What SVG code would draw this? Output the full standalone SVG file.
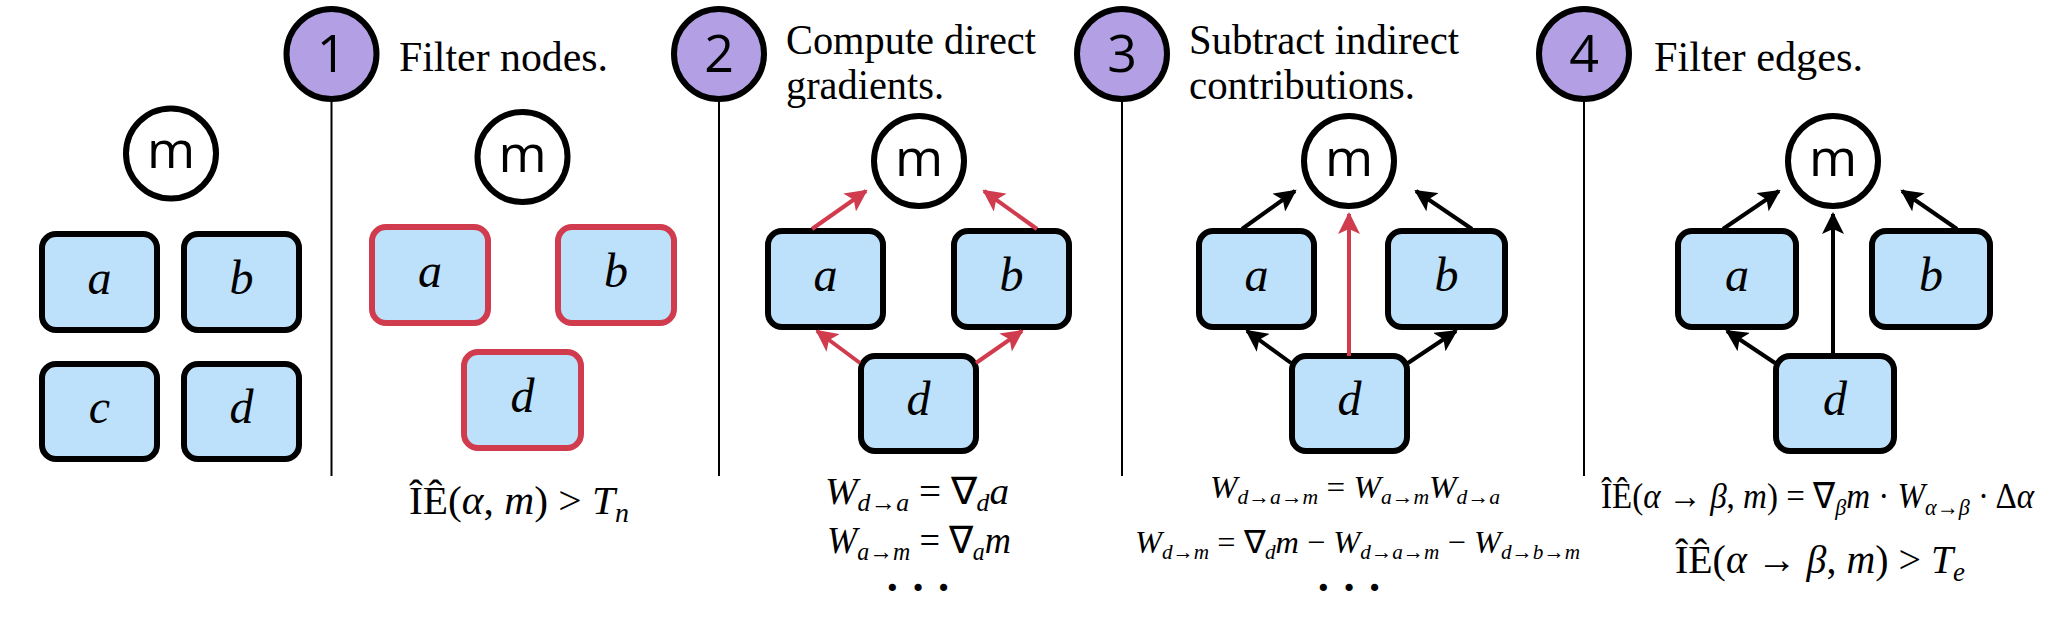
<svg xmlns="http://www.w3.org/2000/svg" width="2054" height="622" viewBox="0 0 2054 622">
<style>
.bx{fill:#bde0fb;stroke:#000;stroke-width:6}
.bxr{fill:#bde0fb;stroke:#d13b4e;stroke-width:6}
.cm{fill:#fff;stroke:#000;stroke-width:6}
.bd{fill:#b3a0e4;stroke:#000;stroke-width:6}
.dv{stroke:#000;stroke-width:2}
.ms{font-family:"Open Sans","DejaVu Sans",sans-serif;font-size:52px;text-anchor:middle}
.dg{font-family:"Open Sans","DejaVu Sans",sans-serif;font-size:52px;text-anchor:middle}
.lt{font-family:"Liberation Serif",serif;font-style:italic;font-size:48px;text-anchor:middle}
.hd{font-family:"Liberation Serif",serif;font-size:42px}
.mt{font-family:"Liberation Serif",serif;font-style:italic}
.up{font-style:normal}
.dots{font-family:"Liberation Serif",serif;font-size:44px;font-weight:bold;text-anchor:middle}
.ar{stroke:#000;stroke-width:4;fill:none;marker-end:url(#ak)}
.arr{stroke:#d13b4e;stroke-width:4;fill:none;marker-end:url(#ar)}
</style>
<defs>
<marker id="ak" markerUnits="userSpaceOnUse" markerWidth="24" markerHeight="22" refX="20" refY="11" orient="auto"><path d="M0,0 L22,11 L0,22 L5,11 Z" fill="#000"/></marker>
<marker id="ar" markerUnits="userSpaceOnUse" markerWidth="24" markerHeight="22" refX="20" refY="11" orient="auto"><path d="M0,0 L22,11 L0,22 L5,11 Z" fill="#d13b4e"/></marker>
</defs>
<rect width="2054" height="622" fill="#fff"/>

<g id="steps">
<line class="dv" x1="331.5" y1="100" x2="331.5" y2="476"/>
<line class="dv" x1="719" y1="100" x2="719" y2="476"/>
<line class="dv" x1="1122" y1="100" x2="1122" y2="476"/>
<line class="dv" x1="1584" y1="100" x2="1584" y2="476"/>
<g id="badge1"><circle class="bd" cx="331.5" cy="54" r="45"/><text class="dg" x="331.5" y="72">1</text></g>
<g id="badge2"><circle class="bd" cx="719" cy="54" r="45"/><text class="dg" x="719" y="72">2</text></g>
<g id="badge3"><circle class="bd" cx="1122" cy="54" r="45"/><text class="dg" x="1122" y="72">3</text></g>
<g id="badge4"><circle class="bd" cx="1584" cy="54" r="45"/><text class="dg" x="1584" y="72">4</text></g>
<text class="hd" x="399" y="71" textLength="209" lengthAdjust="spacingAndGlyphs">Filter nodes.</text>
<text class="hd" x="786" y="54" textLength="250" lengthAdjust="spacingAndGlyphs">Compute direct</text>
<text class="hd" x="786" y="99" textLength="158" lengthAdjust="spacingAndGlyphs">gradients.</text>
<text class="hd" x="1189" y="54" textLength="270" lengthAdjust="spacingAndGlyphs">Subtract indirect</text>
<text class="hd" x="1189" y="99" textLength="226" lengthAdjust="spacingAndGlyphs">contributions.</text>
<text class="hd" x="1654" y="71" textLength="209" lengthAdjust="spacingAndGlyphs">Filter edges.</text>
</g>

<g id="p0-m"><circle class="cm" cx="171" cy="153.5" r="45"/><text class="ms" x="171" y="168">m</text></g>
<g id="p0-a"><rect class="bx" x="42" y="234" width="115" height="96" rx="14"/><text class="lt" x="99.5" y="294">a</text></g>
<g id="p0-b"><rect class="bx" x="184" y="234" width="115" height="96" rx="14"/><text class="lt" x="241.5" y="294">b</text></g>
<g id="p0-c"><rect class="bx" x="42" y="364" width="115" height="95" rx="14"/><text class="lt" x="99.5" y="423">c</text></g>
<g id="p0-d"><rect class="bx" x="184" y="364" width="115" height="95" rx="14"/><text class="lt" x="241.5" y="423">d</text></g>

<g id="p1-m"><circle class="cm" cx="522.5" cy="157" r="45"/><text class="ms" x="522.5" y="172">m</text></g>
<g id="p1-a"><rect class="bxr" x="372" y="227" width="116" height="96" rx="14"/><text class="lt" x="430" y="287">a</text></g>
<g id="p1-b"><rect class="bxr" x="558" y="227" width="116" height="96" rx="14"/><text class="lt" x="616" y="287">b</text></g>
<g id="p1-d"><rect class="bxr" x="464" y="352" width="117" height="96" rx="14"/><text class="lt" x="522.5" y="412">d</text></g>
<text class="mt" x="409" y="514" font-size="40" textLength="220" lengthAdjust="spacingAndGlyphs"><tspan class="up">ÎÊ(</tspan>α<tspan class="up">, </tspan>m<tspan class="up">) &gt; </tspan>T<tspan font-size="27" dy="8">n</tspan></text>

<g id="p2-m"><circle class="cm" cx="919" cy="161" r="45"/><text class="ms" x="919" y="176">m</text></g>
<g id="p2-a"><rect class="bx" x="768" y="231" width="115" height="96" rx="14"/><text class="lt" x="825.5" y="291">a</text></g>
<g id="p2-b"><rect class="bx" x="954" y="231" width="115" height="96" rx="14"/><text class="lt" x="1011.5" y="291">b</text></g>
<g id="p2-d"><rect class="bx" x="861" y="356" width="115" height="95" rx="14"/><text class="lt" x="918.5" y="415">d</text></g>
<g id="p2-edges">
<line class="arr" x1="812" y1="229" x2="866" y2="191"/>
<line class="arr" x1="1037" y1="229" x2="984" y2="191"/>
<line class="arr" x1="860" y1="363" x2="817" y2="331"/>
<line class="arr" x1="976" y1="363" x2="1022" y2="331"/>
</g>
<text class="mt" x="825" y="504" font-size="38" textLength="184" lengthAdjust="spacingAndGlyphs">W<tspan font-size="25" dy="7">d→a</tspan><tspan class="up" dy="-7"> = ∇</tspan><tspan font-size="25" dy="7">d</tspan><tspan dy="-7">a</tspan></text>
<text class="mt" x="827" y="553" font-size="38" textLength="184" lengthAdjust="spacingAndGlyphs">W<tspan font-size="25" dy="7">a→m</tspan><tspan class="up" dy="-7"> = ∇</tspan><tspan font-size="25" dy="7">a</tspan><tspan dy="-7">m</tspan></text>
<text class="dots" x="918" y="602">· · ·</text>

<g id="p3-m"><circle class="cm" cx="1349" cy="161" r="45"/><text class="ms" x="1349" y="176">m</text></g>
<g id="p3-a"><rect class="bx" x="1199" y="231" width="115" height="96" rx="14"/><text class="lt" x="1256.5" y="291">a</text></g>
<g id="p3-b"><rect class="bx" x="1388" y="231" width="117" height="96" rx="14"/><text class="lt" x="1446.5" y="291">b</text></g>
<g id="p3-d"><rect class="bx" x="1292" y="356" width="115" height="95" rx="14"/><text class="lt" x="1349.5" y="415">d</text></g>
<g id="p3-edges">
<line class="ar" x1="1242" y1="229" x2="1295" y2="191"/>
<line class="ar" x1="1472" y1="229" x2="1416" y2="191"/>
<line class="arr" x1="1349" y1="356" x2="1349" y2="214"/>
<line class="ar" x1="1291" y1="363" x2="1247" y2="331"/>
<line class="ar" x1="1408" y1="363" x2="1456" y2="331"/>
</g>
<text class="mt" x="1210" y="498" font-size="32" textLength="290" lengthAdjust="spacingAndGlyphs">W<tspan font-size="21" dy="6">d→a→m</tspan><tspan class="up" dy="-6"> = </tspan>W<tspan font-size="21" dy="6">a→m</tspan><tspan dy="-6">W</tspan><tspan font-size="21" dy="6">d→a</tspan></text>
<text class="mt" x="1135" y="553" font-size="32" textLength="445" lengthAdjust="spacingAndGlyphs">W<tspan font-size="21" dy="6">d→m</tspan><tspan class="up" dy="-6"> = ∇</tspan><tspan font-size="21" dy="6">d</tspan><tspan dy="-6">m</tspan><tspan class="up"> − </tspan>W<tspan font-size="21" dy="6">d→a→m</tspan><tspan class="up" dy="-6"> − </tspan>W<tspan font-size="21" dy="6">d→b→m</tspan></text>
<text class="dots" x="1349" y="602">· · ·</text>

<g id="p4-m"><circle class="cm" cx="1833" cy="161" r="45"/><text class="ms" x="1833" y="176">m</text></g>
<g id="p4-a"><rect class="bx" x="1678" y="231" width="118" height="96" rx="14"/><text class="lt" x="1737" y="291">a</text></g>
<g id="p4-b"><rect class="bx" x="1872" y="231" width="118" height="96" rx="14"/><text class="lt" x="1931" y="291">b</text></g>
<g id="p4-d"><rect class="bx" x="1776" y="356" width="118" height="95" rx="14"/><text class="lt" x="1835" y="415">d</text></g>
<g id="p4-edges">
<line class="ar" x1="1723" y1="229" x2="1779" y2="191"/>
<line class="ar" x1="1957" y1="229" x2="1902" y2="191"/>
<line class="ar" x1="1833" y1="356" x2="1833" y2="214"/>
<line class="ar" x1="1775" y1="363" x2="1727" y2="331"/>
</g>
<text class="mt" x="1601" y="508" font-size="36" textLength="433" lengthAdjust="spacingAndGlyphs"><tspan class="up">ÎÊ(</tspan>α<tspan class="up"> → </tspan>β<tspan class="up">, </tspan>m<tspan class="up">) = ∇</tspan><tspan font-size="24" dy="7">β</tspan><tspan dy="-7">m</tspan><tspan class="up"> · </tspan>W<tspan font-size="24" dy="7">α→β</tspan><tspan class="up" dy="-7"> · Δ</tspan>α</text>
<text class="mt" x="1675" y="573" font-size="40" textLength="290" lengthAdjust="spacingAndGlyphs"><tspan class="up">ÎÊ(</tspan>α<tspan class="up"> → </tspan>β<tspan class="up">, </tspan>m<tspan class="up">) &gt; </tspan>T<tspan font-size="27" dy="8">e</tspan></text>
</svg>
